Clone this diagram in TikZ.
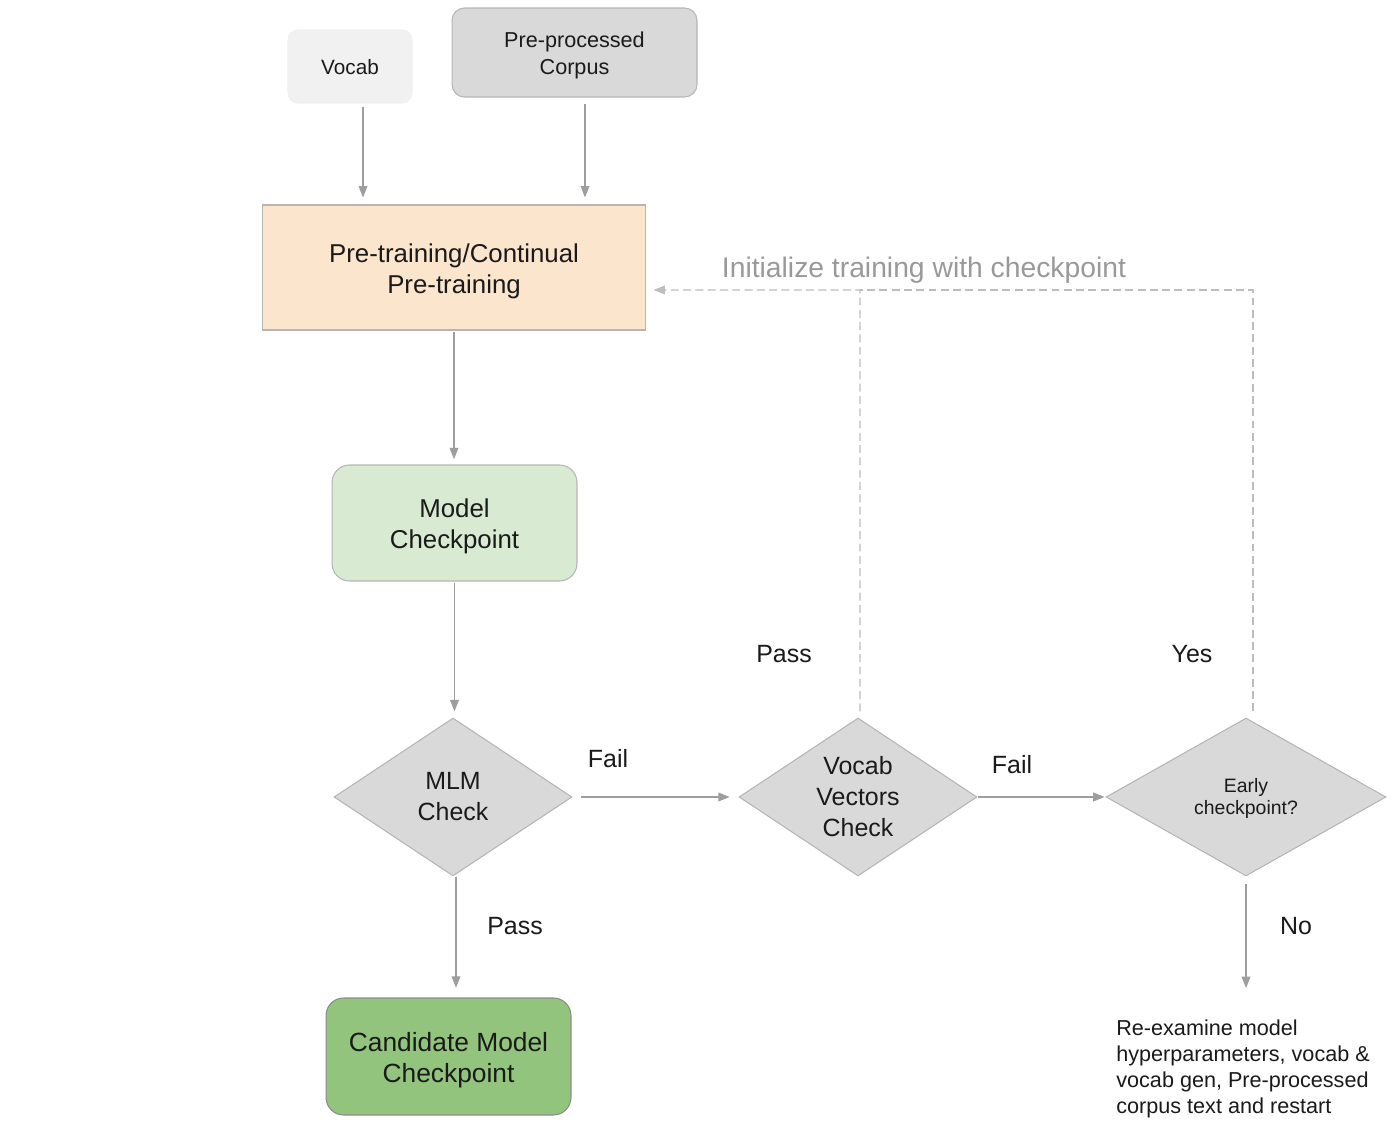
\documentclass[tikz,border=0pt]{standalone}
\usepackage{fontspec}
\setmainfont{Liberation Sans}
\usetikzlibrary{arrows.meta,shapes.geometric,calc}
\definecolor{arrgray}{HTML}{9E9E9E}
\definecolor{dashgray}{HTML}{BDBDBD}
\definecolor{vocabfill}{HTML}{F1F1F1}
\definecolor{corpfill}{HTML}{D9D9D9}
\definecolor{prefill}{HTML}{FCE5CD}
\definecolor{modelfill}{HTML}{D9EAD3}
\definecolor{candfill}{HTML}{93C47D}
\definecolor{diafill}{HTML}{D9D9D9}
\definecolor{bordergray}{HTML}{B5B5B5}
\definecolor{labelgray}{HTML}{999999}
\definecolor{txt}{HTML}{1A1A1A}
% text block pushed down: #1 = extra height added on top (twice the shift)
\newcommand\txtdn[2]{\raisebox{0pt}[\dimexpr\height+#1\relax][\depth]{\begin{tabular}{@{}c@{}}#2\end{tabular}}}
\begin{document}
\begin{tikzpicture}[x=0.02cm,y=-0.02cm,
  every node/.style={text=txt},
  boxbase/.style={draw=bordergray,line width=0.6pt,align=center,inner sep=0pt},
  bigtext/.style={font=\fontsize{14.7pt}{17.6pt}\selectfont},
  midtext/.style={font=\fontsize{12.3pt}{15.3pt}\selectfont},
  labeltext/.style={font=\fontsize{14.2pt}{17pt}\selectfont},
  diabox/.style={diamond,boxbase,draw=bordergray,fill=diafill,minimum width=4.76cm,minimum height=3.16cm,shape aspect=1.5},
  arr/.style={draw=arrgray,line width=0.6pt,-{Triangle[length=6.5pt,width=5pt,fill=arrgray]}},
  dasharr/.style={draw=dashgray,line width=0.6pt,dash pattern=on 4.5pt off 2.5pt},
  dashtip/.style={-{Triangle[length=6.5pt,width=5pt,fill=dashgray]}}
]
\useasboundingbox (0,0) rectangle (1400,1124);

% nodes
\node[boxbase,draw=black!6,fill=vocabfill,rounded corners=0.2cm,minimum width=2.48cm,minimum height=1.46cm,font=\fontsize{11.8pt}{14pt}\selectfont] (vocab) at (350,66.5) {\txtdn{4pt}{Vocab}};
\node[boxbase,fill=corpfill,rounded corners=0.25cm,minimum width=4.9cm,minimum height=1.78cm,midtext] (corpus) at (574.5,52.5) {\txtdn{3.4pt}{Pre-processed\\Corpus}};
\node[boxbase,fill=prefill,minimum width=7.68cm,minimum height=2.5cm,bigtext] (pre) at (454,267.5) {\txtdn{4.5pt}{Pre-training/Continual\\Pre-training}};
\node[boxbase,fill=modelfill,rounded corners=0.35cm,minimum width=4.9cm,minimum height=2.32cm,bigtext] (model) at (454.5,523) {\txtdn{4pt}{Model\\Checkpoint}};
\node[diabox,font=\fontsize{14.2pt}{17.6pt}\selectfont] (mlm) at (453,797) {\txtdn{2.3pt}{MLM\\Check}};
\node[diabox,font=\fontsize{14.2pt}{17.6pt}\selectfont] (vvc) at (858,797) {\txtdn{2.3pt}{Vocab\\Vectors\\Check}};
\node[diabox,minimum width=5.6cm,shape aspect=1.77,font=\fontsize{11.05pt}{12.5pt}\selectfont] (early) at (1246,797) {\txtdn{2.8pt}{Early\\checkpoint?}};
\node[boxbase,draw=black!45,fill=candfill,rounded corners=0.35cm,minimum width=4.9cm,minimum height=2.34cm,font=\fontsize{15pt}{17.8pt}\selectfont] (cand) at (448.5,1056.5) {\txtdn{4.5pt}{Candidate Model\\Checkpoint}};
\node[align=left,inner sep=0pt,anchor=west,font=\fontsize{12.3pt}{14.75pt}\selectfont] (note) at (1116,1069) {Re-examine model\\hyperparameters, vocab \&\\vocab gen, Pre-processed\\corpus text and restart};

% labels
\node[labeltext] (fail1) at (608,759) {Fail};
\node[labeltext] (fail2) at (1012,765) {Fail};
\node[labeltext] (pass1) at (784,654) {Pass};
\node[labeltext] (yes) at (1192,654) {Yes};
\node[labeltext] (pass2) at (515,926) {Pass};
\node[labeltext] (no) at (1296,926) {No};
\node[text=labelgray,font=\fontsize{16.1pt}{18pt}\selectfont] (init) at (924,270) {Initialize training with checkpoint};

% connectors
\draw[arr,shorten <=2pt,shorten >=4pt] ([xshift=0.26cm]vocab.south) -- ([xshift=0.26cm]vocab.south |- pre.north);
\draw[arr,shorten <=3.5pt,shorten >=4pt] ([xshift=0.21cm]corpus.south) -- ([xshift=0.21cm]corpus.south |- pre.north);
\draw[arr,shorten <=1pt,shorten >=3pt] (pre.south) -- (pre.south |- model.north);
\draw[arr,shorten <=1pt,shorten >=3.5pt] (model.south) -- (model.south |- mlm.north);
\draw[arr,shorten <=5pt,shorten >=5pt] (mlm.east) -- (vvc.west);
\draw[arr,shorten >=0.5pt] (vvc.east) -- (early.west);
\draw[arr,shorten >=5.5pt] ([xshift=0.06cm]mlm.south) -- ([xshift=0.06cm]mlm.south |- cand.north);
\draw[arr,shorten <=4pt,shorten >=18pt] (early.south) -- (early.south |- note.north);

\coordinate (jn) at (860,290);
\draw[dasharr,dashtip,shorten <=3.5pt,shorten >=4pt] ([xshift=0.04cm]vvc.north) -- (jn) -- (jn -| pre.east);
\draw[dasharr,shorten <=3.5pt] ([xshift=0.14cm]early.north) -- ([xshift=0.14cm]early.north |- jn) -- (jn);
\end{tikzpicture}
\end{document}
